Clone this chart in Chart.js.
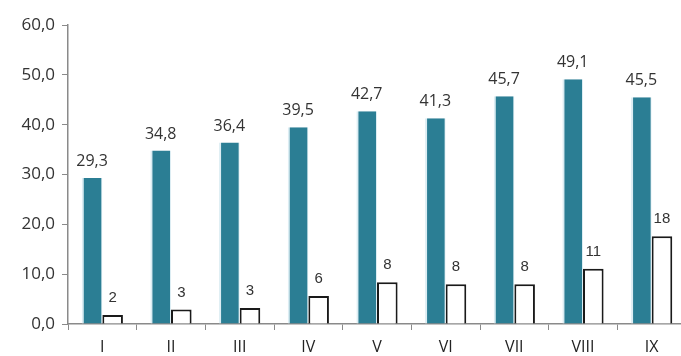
<!DOCTYPE html>
<html><head><meta charset="utf-8">
<script src="https://cdn.jsdelivr.net/npm/chart.js@4"></script>
<style>html,body{margin:0;padding:0;background:#fff;overflow:hidden;width:681px;height:356px}</style>
</head><body>
<canvas id="c" width="686" height="356" style="width:686px;height:356px;display:block"></canvas>
<script>
const categories = ['I','II','III','IV','V','VI','VII','VIII','IX'];
const seriesA = [29.3, 34.8, 36.4, 39.5, 42.7, 41.3, 45.7, 49.1, 45.5];
const seriesB = [1.8, 2.9, 3.2, 5.6, 8.4, 8.0, 8.0, 11.1, 17.6];
const labelsA = ['29,3','34,8','36,4','39,5','42,7','41,3','45,7','49,1','45,5'];
const labelsB = ['2','3','3','6','8','8','8','11','18'];
const yTicks = [0,10,20,30,40,50,60];

const valueLabels = {
  id: 'valueLabels',
  afterDatasetsDraw(chart) {
    const ctx = chart.ctx;
    ctx.save();
    ctx.textAlign = 'center';
    ctx.textBaseline = 'alphabetic';
    chart.getDatasetMeta(0).data.forEach((el, i) => {
      ctx.font = '16px "Open Sans"';
      ctx.fillStyle = '#333';
      ctx.fillText(labelsA[i], el.x, el.y - 12);
    });
    chart.getDatasetMeta(1).data.forEach((el, i) => {
      ctx.font = '15px "Liberation Sans"';
      ctx.fillStyle = '#333';
      ctx.fillText(labelsB[i], el.x, el.y - 13);
    });
    ctx.restore();
  }
};

new Chart(document.getElementById('c'), {
  type: 'bar',
  data: {
    labels: categories,
    datasets: [
      { data: seriesA, backgroundColor: '#2b7e94', borderColor: '#dcedf3',
        borderWidth: {left: 2, right: 1, top: 0, bottom: 0}, borderSkipped: false },
      { data: seriesB, backgroundColor: '#ffffff', borderColor: '#1a1a1a', borderWidth: 2 }
    ]
  },
  options: {
    responsive: false,
    animation: false,
    layout: { padding: { top: 25, right: 0, bottom: 0, left: 0 } },
    plugins: { legend: { display: false }, tooltip: { enabled: false }, title: { display: false } },
    datasets: { bar: { categoryPercentage: 0.6, barPercentage: 1.0 } },
    scales: {
      x: {
        grid: { display: true, drawOnChartArea: false, drawTicks: true, tickLength: 6, color: '#8a8a8a', offset: true },
        border: { display: true, color: '#8a8a8a', width: 1.5 },
        ticks: { font: { family: 'Open Sans', size: 16 }, color: '#222', padding: 8 },
        afterFit(s) { s.height = 32; }
      },
      y: {
        min: 0, max: 60,
        afterBuildTicks(s) { s.ticks = yTicks.map(v => ({ value: v })); },
        grid: { display: true, drawOnChartArea: false, drawTicks: true, tickLength: 6, color: '#8a8a8a' },
        border: { display: true, color: '#8a8a8a', width: 1.5 },
        ticks: { font: { family: 'Open Sans', size: 17 }, color: '#333', padding: 7,
          callback: v => v.toFixed(1).replace('.', ',') },
        afterFit(s) { s.width = 68; }
      }
    }
  },
  plugins: [valueLabels]
});
</script>
</body></html>
